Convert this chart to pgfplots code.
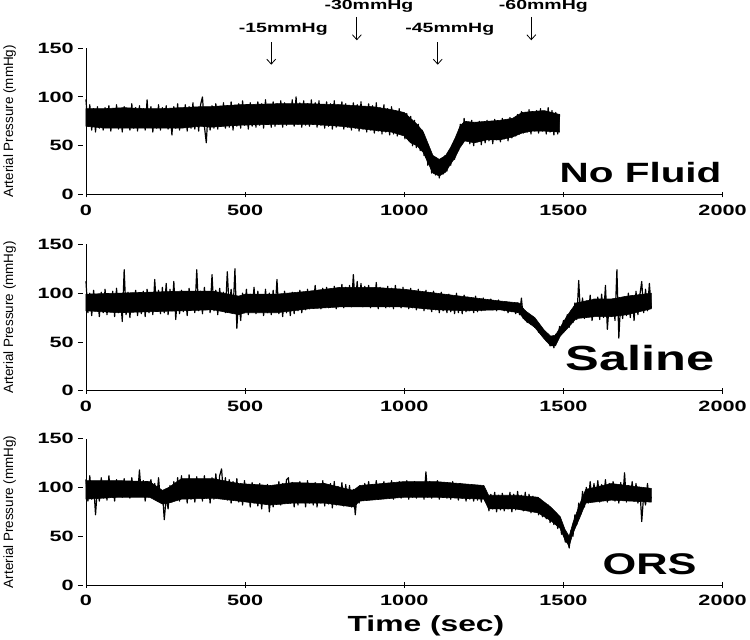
\documentclass[border=0pt]{standalone}
\usepackage{pgfplots}
\usepackage{pgfplotstable}
\pgfplotsset{compat=1.18}
\usetikzlibrary{arrows.meta}
\usepackage{fontspec}
\setmainfont{Liberation Sans}
\newfontfamily\wide{Liberation Sans}[FakeStretch=1.45]

\pgfplotstableread[row sep=\\]{
x y\\
0 97\\ 6 70\\ 12 92\\ 18 66\\ 24 88\\ 30 64\\ 36 90\\ 42 68\\ 48 86\\ 54 66\\
60 89\\ 66 70\\ 72 91\\ 78 65\\ 84 87\\ 90 69\\ 96 92\\ 102 67\\ 108 88\\ 114 64\\
120 90\\ 126 70\\ 132 86\\ 138 66\\ 144 93\\ 150 68\\ 156 89\\ 162 65\\ 168 91\\ 174 70\\
180 88\\ 186 66\\ 192 97\\ 198 69\\ 204 90\\ 210 64\\ 216 87\\ 222 68\\ 228 92\\ 234 66\\
240 89\\ 246 70\\ 252 91\\ 258 67\\ 264 86\\ 270 61\\ 276 90\\ 282 68\\ 288 93\\ 294 66\\
300 88\\ 306 69\\ 312 92\\ 318 65\\ 324 90\\ 330 68\\ 336 94\\ 342 67\\ 348 89\\ 354 65\\
360 92\\ 366 100\\ 372 70\\ 378 53\\ 384 88\\ 390 66\\ 396 91\\ 402 68\\ 408 93\\ 414 67\\
420 90\\ 426 70\\ 432 94\\ 438 68\\ 444 91\\ 450 69\\ 456 95\\ 462 66\\ 468 90\\ 474 70\\
480 93\\ 486 68\\ 492 96\\ 498 71\\ 504 91\\ 510 67\\ 516 94\\ 522 70\\ 528 92\\ 534 69\\
540 95\\ 546 71\\ 552 93\\ 558 68\\ 564 97\\ 570 72\\ 576 92\\ 582 69\\ 588 95\\ 594 70\\
600 93\\ 606 72\\ 612 96\\ 618 69\\ 624 94\\ 630 71\\ 636 92\\ 642 73\\ 648 97\\ 654 70\\
660 100\\ 666 72\\ 672 94\\ 678 69\\ 684 96\\ 690 71\\ 696 93\\ 702 70\\ 708 97\\ 714 72\\
720 94\\ 726 69\\ 732 96\\ 738 71\\ 744 92\\ 750 68\\ 756 95\\ 762 70\\ 768 93\\ 774 67\\
780 96\\ 786 69\\ 792 92\\ 798 70\\ 804 95\\ 810 67\\ 816 93\\ 822 69\\ 828 91\\ 834 66\\
840 94\\ 846 68\\ 852 92\\ 858 65\\ 864 95\\ 870 67\\ 876 90\\ 882 64\\ 888 93\\ 894 66\\
900 91\\ 906 63\\ 912 94\\ 918 65\\ 924 89\\ 930 62\\ 936 92\\ 942 64\\ 948 88\\ 954 61\\
960 90\\ 966 62\\ 972 86\\ 978 60\\ 984 88\\ 990 63\\ 996 84\\ 1002 57\\ 1008 83\\ 1014 55\\
1020 80\\ 1026 50\\ 1032 76\\ 1038 48\\ 1044 72\\ 1050 45\\ 1056 66\\ 1062 40\\ 1068 55\\ 1074 30\\
1080 42\\ 1086 22\\ 1092 38\\ 1098 20\\ 1104 36\\ 1110 17\\ 1116 34\\ 1122 21\\ 1128 40\\ 1134 24\\
1140 44\\ 1146 30\\ 1152 52\\ 1158 36\\ 1164 60\\ 1170 45\\ 1176 72\\ 1182 52\\ 1188 78\\ 1194 55\\
1200 74\\ 1206 52\\ 1212 76\\ 1218 50\\ 1224 73\\ 1230 54\\ 1236 75\\ 1242 51\\ 1248 74\\ 1254 53\\
1260 76\\ 1266 55\\ 1272 73\\ 1278 52\\ 1284 77\\ 1290 56\\ 1296 74\\ 1302 54\\ 1308 78\\ 1314 57\\
1320 76\\ 1326 55\\ 1332 79\\ 1338 58\\ 1344 77\\ 1350 60\\ 1356 82\\ 1362 62\\ 1368 85\\ 1374 63\\
1380 84\\ 1386 64\\ 1392 87\\ 1398 62\\ 1404 83\\ 1410 65\\ 1416 86\\ 1422 63\\ 1428 88\\ 1434 65\\
1440 85\\ 1446 62\\ 1452 89\\ 1458 64\\ 1464 86\\ 1470 61\\ 1476 84\\ 1482 62\\ 1488 82\\
}\nofluid

\pgfplotstableread[row sep=\\]{
x y\\
0 112\\ 6 80\\ 12 100\\ 18 77\\ 24 103\\ 30 82\\ 36 98\\ 42 76\\ 48 101\\ 54 80\\
60 104\\ 66 78\\ 72 99\\ 78 83\\ 84 102\\ 90 76\\ 96 105\\ 102 80\\ 108 98\\ 114 71\\
120 124\\ 126 78\\ 132 101\\ 138 75\\ 144 99\\ 150 81\\ 156 103\\ 162 77\\ 168 100\\ 174 79\\
180 102\\ 186 76\\ 192 104\\ 198 80\\ 204 99\\ 210 78\\ 216 114\\ 222 82\\ 228 103\\ 234 79\\
240 106\\ 246 80\\ 252 110\\ 258 78\\ 264 104\\ 270 82\\ 276 112\\ 282 73\\ 288 100\\ 294 79\\
300 103\\ 306 81\\ 312 99\\ 318 77\\ 324 105\\ 330 83\\ 336 101\\ 342 80\\ 348 124\\ 354 82\\
360 102\\ 366 79\\ 372 106\\ 378 84\\ 384 100\\ 390 80\\ 396 119\\ 402 82\\ 408 103\\ 414 78\\
420 105\\ 426 83\\ 432 101\\ 438 80\\ 444 122\\ 450 84\\ 456 104\\ 462 81\\ 468 125\\ 474 64\\
480 96\\ 486 72\\ 492 100\\ 498 80\\ 504 104\\ 510 78\\ 516 99\\ 522 82\\ 528 106\\ 534 79\\
540 102\\ 546 81\\ 552 98\\ 558 77\\ 564 104\\ 570 80\\ 576 100\\ 582 78\\ 588 103\\ 594 81\\
600 114\\ 606 79\\ 612 99\\ 618 76\\ 624 102\\ 630 80\\ 636 97\\ 642 77\\ 648 101\\ 654 79\\
660 99\\ 666 82\\ 672 103\\ 678 80\\ 684 100\\ 690 83\\ 696 104\\ 702 84\\ 708 102\\ 714 85\\
720 108\\ 726 86\\ 732 103\\ 738 84\\ 744 105\\ 750 87\\ 756 106\\ 762 85\\ 768 104\\ 774 86\\
780 107\\ 786 84\\ 792 105\\ 798 87\\ 804 109\\ 810 85\\ 816 106\\ 822 88\\ 828 108\\ 834 86\\
840 119\\ 846 87\\ 852 112\\ 858 88\\ 864 110\\ 870 86\\ 876 107\\ 882 89\\ 888 108\\ 894 85\\
900 104\\ 906 87\\ 912 111\\ 918 84\\ 924 106\\ 930 88\\ 936 103\\ 942 85\\ 948 107\\ 954 86\\
960 105\\ 966 84\\ 972 108\\ 978 87\\ 984 103\\ 990 85\\ 996 106\\ 1002 86\\ 1008 102\\ 1014 84\\
1020 105\\ 1026 85\\ 1032 101\\ 1038 83\\ 1044 104\\ 1050 86\\ 1056 100\\ 1062 82\\ 1068 103\\ 1074 84\\
1080 100\\ 1086 81\\ 1092 102\\ 1098 83\\ 1104 98\\ 1110 80\\ 1116 101\\ 1122 82\\ 1128 97\\ 1134 80\\
1140 99\\ 1146 81\\ 1152 96\\ 1158 79\\ 1164 100\\ 1170 80\\ 1176 95\\ 1182 79\\ 1188 98\\ 1194 81\\
1200 96\\ 1206 82\\ 1212 94\\ 1218 80\\ 1224 97\\ 1230 81\\ 1236 93\\ 1242 82\\ 1248 95\\ 1254 83\\
1260 92\\ 1266 84\\ 1272 94\\ 1278 83\\ 1284 91\\ 1290 82\\ 1296 93\\ 1302 84\\ 1308 90\\ 1314 82\\
1320 91\\ 1326 80\\ 1332 89\\ 1338 81\\ 1344 88\\ 1350 79\\ 1356 90\\ 1362 78\\ 1368 95\\ 1374 74\\
1380 82\\ 1386 70\\ 1392 78\\ 1398 68\\ 1404 75\\ 1410 65\\ 1416 70\\ 1422 60\\ 1428 66\\ 1434 56\\
1440 60\\ 1446 52\\ 1452 56\\ 1458 46\\ 1464 55\\ 1470 44\\ 1476 58\\ 1482 52\\ 1488 66\\ 1494 58\\
1500 72\\ 1506 62\\ 1512 78\\ 1518 65\\ 1524 82\\ 1530 70\\ 1536 90\\ 1542 73\\ 1548 113\\ 1554 75\\
1560 95\\ 1566 74\\ 1572 92\\ 1578 76\\ 1584 98\\ 1590 72\\ 1596 94\\ 1602 77\\ 1608 96\\ 1614 73\\
1620 99\\ 1626 75\\ 1632 108\\ 1638 63\\ 1644 90\\ 1650 76\\ 1656 94\\ 1662 72\\ 1668 124\\ 1674 54\\
1680 92\\ 1686 74\\ 1692 96\\ 1698 77\\ 1704 100\\ 1710 75\\ 1716 97\\ 1722 72\\ 1728 102\\ 1734 78\\
1740 98\\ 1746 112\\ 1752 80\\ 1758 104\\ 1764 82\\ 1770 110\\ 1776 85\\
}\saline

\pgfplotstableread[row sep=\\]{
x y\\
0 108\\ 6 86\\ 12 112\\ 18 88\\ 24 104\\ 30 72\\ 36 100\\ 42 86\\ 48 110\\ 54 89\\
60 106\\ 66 87\\ 72 112\\ 78 90\\ 84 104\\ 90 86\\ 96 108\\ 102 91\\ 108 105\\ 114 90\\
120 109\\ 126 92\\ 132 104\\ 138 89\\ 144 110\\ 150 93\\ 156 106\\ 162 91\\ 168 118\\ 174 92\\
180 107\\ 186 86\\ 192 102\\ 198 90\\ 204 108\\ 210 93\\ 216 104\\ 222 88\\ 228 110\\ 234 86\\
240 96\\ 246 67\\ 252 90\\ 258 78\\ 264 102\\ 270 85\\ 276 106\\ 282 88\\ 288 110\\ 294 86\\
300 112\\ 306 89\\ 312 107\\ 318 84\\ 324 113\\ 330 88\\ 336 108\\ 342 85\\ 348 111\\ 354 90\\
360 106\\ 366 86\\ 372 112\\ 378 89\\ 384 108\\ 390 84\\ 396 110\\ 402 88\\ 408 114\\ 414 90\\
420 112\\ 426 119\\ 432 92\\ 438 110\\ 444 87\\ 450 108\\ 456 84\\ 462 106\\ 468 88\\ 474 109\\
480 85\\ 486 104\\ 492 82\\ 498 107\\ 504 86\\ 510 103\\ 516 80\\ 522 105\\ 528 84\\ 534 102\\
540 81\\ 546 104\\ 552 78\\ 558 100\\ 564 83\\ 570 103\\ 576 75\\ 582 98\\ 588 80\\ 594 101\\
600 84\\ 606 106\\ 612 82\\ 618 104\\ 624 86\\ 630 108\\ 636 110\\ 642 84\\ 648 105\\ 654 80\\
660 103\\ 666 82\\ 672 106\\ 678 85\\ 684 102\\ 690 80\\ 696 107\\ 702 84\\ 708 104\\ 714 82\\
720 105\\ 726 80\\ 732 103\\ 738 84\\ 744 107\\ 750 81\\ 756 102\\ 762 83\\ 768 104\\ 774 79\\
780 106\\ 786 82\\ 792 101\\ 798 84\\ 804 105\\ 810 81\\ 816 103\\ 822 85\\ 828 102\\ 834 80\\
840 98\\ 846 72\\ 852 94\\ 858 84\\ 864 101\\ 870 88\\ 876 104\\ 882 90\\ 888 106\\ 894 89\\
900 103\\ 906 91\\ 912 107\\ 918 88\\ 924 102\\ 930 90\\ 936 106\\ 942 89\\ 948 104\\ 954 91\\
960 107\\ 966 88\\ 972 103\\ 978 90\\ 984 106\\ 990 89\\ 996 104\\ 1002 91\\ 1008 107\\ 1014 88\\
1020 103\\ 1026 90\\ 1032 106\\ 1038 89\\ 1044 104\\ 1050 91\\ 1056 105\\ 1062 88\\ 1068 116\\ 1074 90\\
1080 106\\ 1086 89\\ 1092 103\\ 1098 91\\ 1104 107\\ 1110 88\\ 1116 104\\ 1122 90\\ 1128 105\\ 1134 89\\
1140 103\\ 1146 88\\ 1152 106\\ 1158 90\\ 1164 102\\ 1170 87\\ 1176 104\\ 1182 89\\ 1188 101\\ 1194 86\\
1200 103\\ 1206 88\\ 1212 100\\ 1218 86\\ 1224 102\\ 1230 87\\ 1236 99\\ 1242 85\\ 1248 101\\ 1254 86\\
1260 90\\ 1266 76\\ 1272 93\\ 1278 78\\ 1284 95\\ 1290 75\\ 1296 92\\ 1302 77\\ 1308 94\\ 1314 76\\
1320 91\\ 1326 78\\ 1332 95\\ 1338 75\\ 1344 93\\ 1350 77\\ 1356 96\\ 1362 78\\ 1368 92\\ 1374 76\\
1380 95\\ 1386 77\\ 1392 93\\ 1398 74\\ 1404 91\\ 1410 75\\ 1416 89\\ 1422 72\\ 1428 88\\ 1434 70\\
1440 84\\ 1446 68\\ 1452 82\\ 1458 64\\ 1464 78\\ 1470 62\\ 1476 74\\ 1482 58\\ 1488 68\\ 1494 52\\
1500 58\\ 1506 44\\ 1512 48\\ 1518 38\\ 1524 56\\ 1530 50\\ 1536 72\\ 1542 62\\ 1548 84\\ 1554 72\\
1560 96\\ 1566 80\\ 1572 100\\ 1578 84\\ 1584 106\\ 1590 86\\ 1596 104\\ 1602 88\\ 1608 107\\ 1614 85\\
1620 103\\ 1626 87\\ 1632 108\\ 1638 85\\ 1644 104\\ 1650 88\\ 1656 106\\ 1662 86\\ 1668 103\\ 1674 84\\
1680 105\\ 1686 87\\ 1692 115\\ 1698 85\\ 1704 102\\ 1710 88\\ 1716 106\\ 1722 86\\ 1728 104\\ 1734 84\\
1740 100\\ 1746 65\\ 1752 92\\ 1758 82\\ 1764 104\\ 1770 86\\ 1776 90\\
}\ors

\pgfplotsset{
  panel/.style={
    scale only axis, width=639pt, height=147pt,
    xmin=0, xmax=2000, ymin=0, ymax=150,
    axis x line=bottom, axis y line=left,
    axis line style={-, line width=0.9pt, black},
    xtick={0,500,1000,1500,2000}, ytick={0,50,100,150},
    major tick length=5.5pt,
    tick style={line width=0.9pt, black},
    ytick style={xshift=-5.5pt},
    /pgf/number format/assume math mode=true,
    /pgf/number format/1000 sep={},
    ticklabel style={font=\wide\bfseries\fontsize{15}{15}\selectfont},
    xticklabel style={yshift=-4pt},
    yticklabel style={xshift=-6pt},
    ylabel={Arterial Pressure (mmHg)},
    ylabel style={at={(axis description cs:-0.120,0.5)}, anchor=center,
      font=\fontsize{13.5}{13.5}\selectfont},
    clip=false,
  },
  trace/.style={black, line width=1.2pt, line join=round, line cap=round, no marks},
  core/.style={fill=black, draw=black, line width=0.6pt, no marks},
}

\begin{document}
\begin{tikzpicture}
\begin{axis}[panel, at={(0,0)}, anchor=south west]
% core band of the trace (upper edge left to right, lower edge right to left)
\addplot[core] coordinates {
(0,88)(60,88)(120,89)(180,88)(240,88)(300,89)(360,90)(390,90)(480,92)(600,93)(700,93)
(800,92)(900,90)(960,87)(1000,84)(1020,78)(1040,72)(1060,64)(1075,52)(1090,40)(1110,36)
(1130,40)(1145,48)(1160,58)(1175,70)(1190,75)(1220,74)(1260,75)(1300,76)(1340,78)(1370,84)
(1400,85)(1440,86)(1488,82)
(1488,64)(1440,65)(1400,65)(1370,63)(1340,59)(1300,56)(1260,56)(1220,53)(1190,55)(1175,48)
(1160,38)(1145,31)(1130,23)(1110,19)(1090,22)(1075,32)(1060,43)(1040,50)(1020,53)(1000,60)
(960,64)(900,66)(800,70)(700,72)(600,72)(480,71)(390,69)(360,70)(300,68)(240,68)(180,68)
(120,68)(60,68)(0,70)} -- cycle;
\addplot[trace] table[x=x,y=y] {\nofluid};
\node[anchor=base east, font=\wide\bfseries\fontsize{28}{28}\selectfont, inner sep=0pt] at (axis cs:1997,12) {No Fluid};
\draw[-{Straight Barb[length=5pt,width=9pt]}, line width=0.8pt] (axis cs:582,156) -- (axis cs:582,133);
\draw[-{Straight Barb[length=5pt,width=9pt]}, line width=0.8pt] (axis cs:851,182) -- (axis cs:851,158);
\draw[-{Straight Barb[length=5pt,width=9pt]}, line width=0.8pt] (axis cs:1105,156) -- (axis cs:1105,133);
\draw[-{Straight Barb[length=5pt,width=9pt]}, line width=0.8pt] (axis cs:1399,182) -- (axis cs:1399,158);
\node[font=\wide\bfseries\fontsize{13.5}{13.5}\selectfont, inner sep=0pt] at (axis cs:620,169) {-15mmHg};
\node[font=\wide\bfseries\fontsize{13.5}{13.5}\selectfont, inner sep=0pt] at (axis cs:889,193) {-30mmHg};
\node[font=\wide\bfseries\fontsize{13.5}{13.5}\selectfont, inner sep=0pt] at (axis cs:1143,169) {-45mmHg};
\node[font=\wide\bfseries\fontsize{13.5}{13.5}\selectfont, inner sep=0pt] at (axis cs:1437,193) {-60mmHg};
\end{axis}
\begin{axis}[panel, at={(0,-197pt)}, anchor=south west]
\addplot[core] coordinates {
(0,99)(100,100)(200,101)(300,102)(400,102)(480,97)(500,99)(600,99)(700,102)(800,106)(900,106)
(1000,104)(1100,100)(1200,96)(1300,92)(1360,90)(1380,82)(1410,75)(1440,62)(1460,56)(1475,57)
(1490,65)(1510,76)(1540,90)(1600,94)(1650,94)(1700,97)(1776,100)
(1776,84)(1700,78)(1650,76)(1600,76)(1540,74)(1510,63)(1490,56)(1475,46)(1460,46)(1440,53)
(1410,65)(1380,72)(1360,80)(1300,83)(1200,82)(1100,83)(1000,86)(900,86)(800,86)(700,84)
(600,80)(500,80)(480,78)(400,83)(300,82)(200,81)(100,80)(0,82)} -- cycle;
\addplot[trace] table[x=x,y=y] {\saline};
\node[anchor=base east, font=\wide\bfseries\fontsize{35}{35}\selectfont, inner sep=0pt] at (axis cs:1975,20.7) {Saline};
\end{axis}
\begin{axis}[panel, at={(0,-392pt)}, anchor=south west,
  xlabel={Time (sec)},
  xlabel style={at={(axis description cs:0.534,-0.32)}, anchor=base,
    font=\wide\bfseries\fontsize{22}{22}\selectfont}]
\addplot[core] coordinates {
(0,107)(100,107)(200,106)(240,97)(260,100)(300,109)(400,109)(480,104)(580,102)(650,105)
(750,104)(840,97)(860,102)(1000,106)(1100,106)(1250,102)(1265,92)(1350,92)(1420,90)
(1460,80)(1490,70)(1505,57)(1518,50)(1530,64)(1550,82)(1570,98)(1650,104)(1776,99)
(1776,85)(1650,87)(1570,84)(1550,68)(1530,53)(1518,40)(1505,46)(1490,58)(1460,66)(1420,74)
(1350,78)(1265,78)(1250,88)(1100,90)(1000,90)(860,86)(840,80)(750,84)(650,84)(580,82)
(480,86)(400,89)(300,88)(260,84)(240,83)(200,90)(100,90)(0,88)} -- cycle;
\addplot[trace] table[x=x,y=y] {\ors};
\node[anchor=base east, font=\wide\bfseries\fontsize{30}{30}\selectfont, inner sep=0pt] at (axis cs:1919,10.5) {ORS};
\end{axis}
\end{tikzpicture}
\end{document}
